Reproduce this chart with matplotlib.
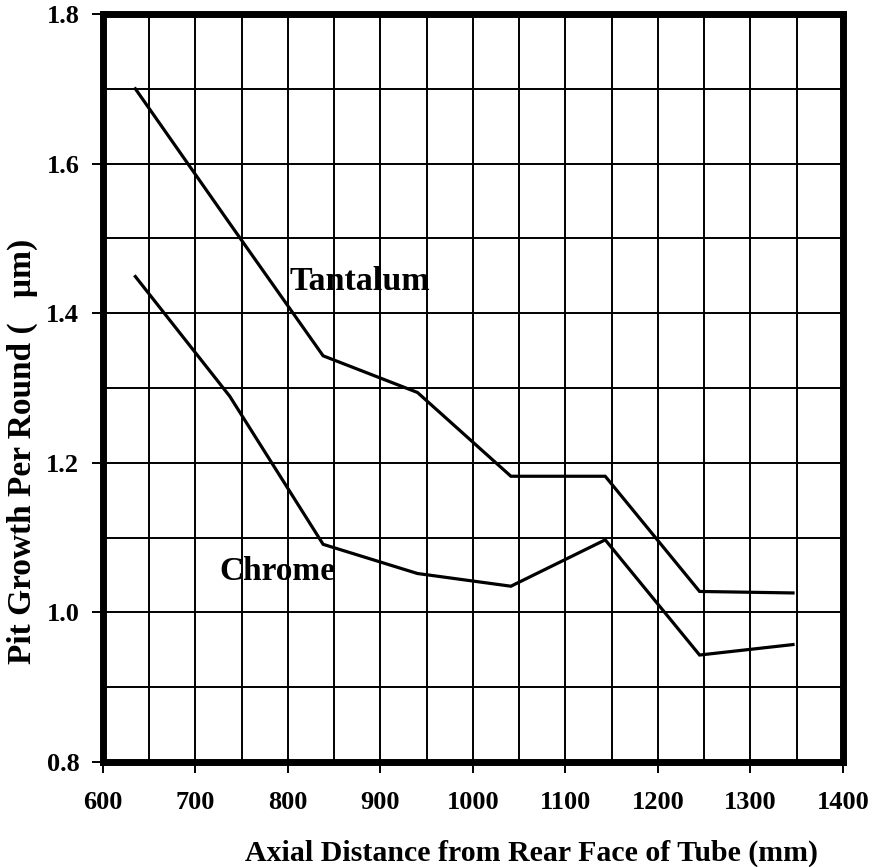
import matplotlib
matplotlib.use("Agg")
import matplotlib.pyplot as plt
from matplotlib.ticker import MultipleLocator

plt.rcParams['font.family'] = ['Liberation Serif', 'DejaVu Serif']
plt.rcParams['font.weight'] = 'bold'

# distance from rear face of tube (mm)
distance = [635, 737, 838, 940, 1041, 1143, 1245, 1346]
# pit growth per round (um)
tantalum = [1.700, 1.520, 1.343, 1.294, 1.182, 1.182, 1.028, 1.026]
chrome = [1.449, 1.289, 1.091, 1.052, 1.035, 1.097, 0.943, 0.957]

fig = plt.figure(figsize=(8.72, 8.67), dpi=100)
ax = fig.add_axes([0.1181, 0.1211, 0.8486, 0.8628])

ax.plot(distance, tantalum, color='black', lw=2.3, solid_joinstyle='miter', zorder=3)
ax.plot(distance, chrome, color='black', lw=2.3, solid_joinstyle='miter', zorder=3)

# curve labels
ax.text(878, 1.443, 'Tantalum', fontsize=24.5, fontweight='bold', ha='center', va='center')
ax.text(789, 1.055, 'Chrome', fontsize=24, fontweight='bold', ha='center', va='center')

ax.set_xlim(600, 1400)
ax.set_ylim(0.8, 1.8)
ax.xaxis.set_major_locator(MultipleLocator(100))
ax.xaxis.set_minor_locator(MultipleLocator(50))
ax.yaxis.set_major_locator(MultipleLocator(0.2))
ax.yaxis.set_minor_locator(MultipleLocator(0.1))
ax.yaxis.set_major_formatter(plt.FuncFormatter(lambda v, p: f'{v:.1f}'))

ax.grid(True, which='both', color='black', lw=1.4)
ax.set_axisbelow(True)
ax.tick_params(which='major', direction='out', length=8, width=1.4, labelsize=19)
ax.tick_params(axis='x', pad=13)
ax.tick_params(axis='y', pad=9)
ax.tick_params(which='minor', length=0)
for s in ax.spines.values():
    s.set_linewidth(5)

ax.set_xlabel('Axial Distance from Rear Face of Tube (mm)', fontsize=21.5, fontweight='bold')
ax.set_ylabel('Pit Growth Per Round (   µm)', fontsize=24, fontweight='bold')
ax.xaxis.set_label_coords(0.579, -0.104)
ax.yaxis.set_label_coords(-0.088, 0.415)

fig.savefig('out.png', dpi=100)
